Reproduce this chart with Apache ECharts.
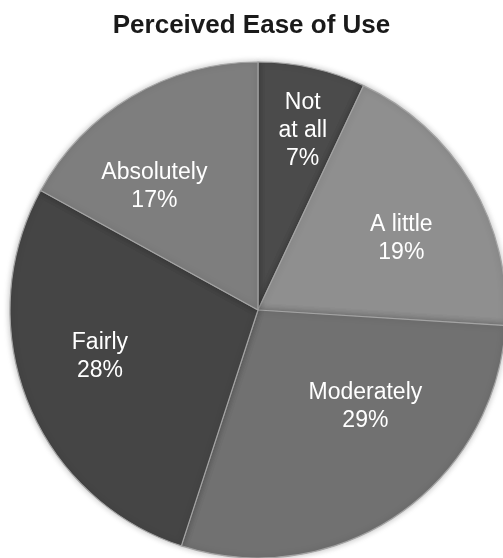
<!DOCTYPE html>
<html>
<head>
<meta charset="utf-8">
<script src="https://cdn.jsdelivr.net/npm/echarts@6/dist/echarts.min.js"></script>
<style>
html,body{margin:0;padding:0;background:#fff;}
#c{width:503px;height:558px;}
</style>
</head>
<body>
<div id="c"></div>
<script>
const titleText = 'Perceived Ease of Use';
const categories = ['Not at all', 'A little', 'Moderately', 'Fairly', 'Absolutely'];
const values = [7, 19, 29, 28, 17];
const sliceColors = ['#4b4b4b', '#8f8f8f', '#717171', '#454545', '#7e7e7e'];
const labelOffsets = [[17, -55], [34, -7], [36, -8], [-40, 0], [-39, -14]];

const chart = echarts.init(document.getElementById('c'), null, {renderer: 'canvas'});
chart.setOption({
  animation: false,
  title: {
    text: titleText,
    left: 'center',
    top: 8,
    textStyle: {fontFamily: 'Liberation Sans, Arial, sans-serif', fontSize: 26, fontWeight: 'bold', color: '#1a1a1a'}
  },
  series: [{
    type: 'pie',
    center: [258, 310],
    radius: 248,
    startAngle: 90,
    clockwise: true,
    avoidLabelOverlap: false,
    itemStyle: {borderColor: '#a4a4a4', borderWidth: 1.2, shadowBlur: 6, shadowColor: 'rgba(0,0,0,0.25)'},
    label: {
      show: true,
      position: 'inside',
      color: '#ffffff',
      fontFamily: 'Liberation Sans, Arial, sans-serif',
      fontSize: 23,
      lineHeight: 28,
      align: 'center',
      formatter: function (p) {
        const name = p.name === 'Not at all' ? 'Not\nat all' : p.name;
        return name + '\n' + p.value + '%';
      }
    },
    labelLine: {show: false},
    data: categories.map((c, i) => ({
      name: c,
      value: values[i],
      itemStyle: {color: sliceColors[i]},
      label: {offset: labelOffsets[i]}
    }))
  }]
});
</script>
</body>
</html>
